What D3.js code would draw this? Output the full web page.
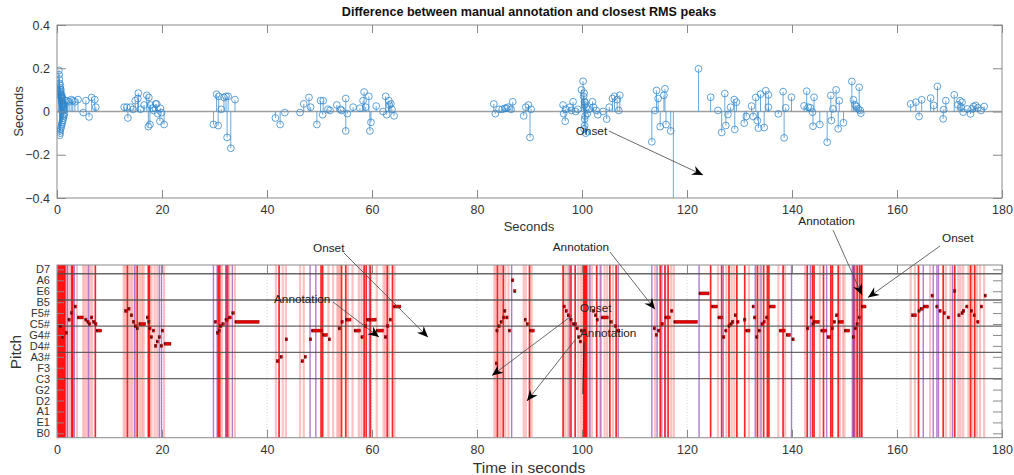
<!DOCTYPE html>
<html><head><meta charset="utf-8">
<script src="https://cdn.jsdelivr.net/npm/d3@7"></script>
<style>body{margin:0;background:#fff;} svg{font-family:"Liberation Sans",Arial,sans-serif;}</style>
</head><body><svg id="c" width="1014" height="475"></svg>
<script>
// ---------- Top panel: stem data (time in s, difference in s) ----------
const stemTimes = [0.35,0.4,0.45,0.5,0.55,0.6,0.6,0.65,0.7,0.7,0.75,0.8,0.8,0.85,0.9,0.9,0.95,1.0,1.0,1.05,1.1,1.1,1.15,1.2,1.2,1.25,1.3,1.3,1.35,1.4,1.45,1.5,0.5,0.55,0.65,0.75,0.85,0.95,1.05,1.15,
 1.9,2.3,2.7,3.0,3.4,4.0,5.0,5.5,6.1,6.6,7.2,7.4,
 12.8,13.3,13.5,14.0,14.5,14.9,15.4,15.5,15.9,16.6,17.1,17.4,17.5,17.7,17.8,18.2,18.4,18.8,19.0,19.2,19.7,19.9,19.6,20.4,
 29.8,30.4,30.7,30.8,31.3,31.8,32.2,32.4,32.6,33.1,33.9,
 41.6,42.5,43.4,46.3,47.0,48.0,48.3,49.5,50.2,50.6,50.7,51.6,52.0,53.3,54.0,54.2,55.0,55.0,55.3,56.4,57.7,58.3,58.5,58.8,59.4,59.6,59.8,60.8,62.1,62.6,62.8,63.2,63.3,63.6,63.8,64.2,
 83.2,83.5,84.2,84.8,85.3,85.6,85.9,86.5,86.8,88.9,89.3,89.8,90.1,90.3,
 96.4,96.5,96.8,96.9,97.7,98.0,98.3,98.8,99.2,99.9,100.2,100.3,100.5,100.5,100.5,100.5,100.7,100.8,101.0,101.3,102.0,102.2,102.7,103.0,104.0,104.7,105.2,105.8,106.2,106.7,107.0,107.2,100.4,100.6,100.6,100.4,
 113.3,113.9,114.2,114.5,114.9,115.6,115.8,116.0,116.9,117.4,
 122.2,124.5,125.9,126.6,127.2,127.4,127.8,128.3,129.0,129.1,129.4,130.9,131.3,132.3,132.6,133.1,133.4,133.6,134.0,134.7,135.0,135.5,135.5,
 137.4,138.3,138.5,138.8,139.9,142.3,142.8,143.1,143.5,143.9,144.2,144.0,145.3,146.7,147.4,147.5,147.8,148.4,148.8,149.0,149.8,
 151.4,151.7,152.0,152.3,152.6,152.8,153.0,153.1,
 162.6,163.6,164.2,164.7,166.4,167.0,167.7,168.8,168.9,169.3,170.9,171.6,172.0,172.2,172.4,172.6,173.4,174.0,174.3,174.6,175.0,175.4,176.0,176.6];
const stemDiffs = [0.19,0.17,0.15,0.13,0.11,0.10,-0.10,0.09,0.08,-0.08,0.07,0.065,-0.07,0.06,0.05,-0.06,0.045,0.04,-0.05,0.035,0.03,-0.04,0.025,0.02,-0.03,0.015,0.01,-0.02,0.005,-0.01,0.03,0.05,-0.11,-0.09,0.12,0.10,0.08,0.07,0.06,-0.015,
 0.05,0.045,0.055,0.05,0.045,0.055,-0.005,0.05,-0.025,0.065,0.055,0.02,
 0.02,0.02,-0.03,0.02,0.01,0.05,0.06,0.085,0.01,0.03,0.075,-0.07,0.065,-0.06,0.03,0.015,0.005,0.035,0.035,-0.01,0.015,-0.005,-0.045,-0.06,
 -0.06,0.08,-0.065,0.07,0.01,0.065,0.07,-0.12,0.07,-0.17,0.055,
 -0.03,-0.06,-0.005,-0.005,0.035,0.065,0.02,-0.06,0.05,-0.015,0.05,0.01,0.005,0.03,0.01,0.005,0.06,-0.09,-0.01,0.02,0.015,0.05,0.09,0.02,0.07,-0.09,-0.05,0.025,0.0,0.07,-0.015,0.05,0.03,0.035,0.01,-0.02,
 0.035,-0.01,0.01,0.01,0.015,0.015,0.02,0.01,0.045,-0.02,0.02,0.03,-0.12,0.01,
 0.03,-0.01,-0.045,0.01,0.02,0.005,0.045,0.0,0.01,0.10,0.14,0.07,0.045,0.03,-0.035,-0.065,-0.10,0.02,-0.01,0.01,0.045,0.02,0.005,-0.015,0.0,-0.035,0.02,0.06,0.07,0.055,0.005,0.075,0.085,-0.02,0.04,-0.08,
 -0.14,0.005,0.097,0.06,-0.07,0.075,0.105,-0.06,-0.09,-0.5,
 0.197,0.066,0.005,-0.097,0.083,-0.065,-0.014,0.02,0.055,-0.083,0.043,-0.054,-0.023,0.025,-0.023,0.065,-0.042,-0.077,0.08,-0.074,0.096,0.077,0.02,
 -0.011,0.092,-0.122,0.017,0.066,0.026,0.094,0.02,0.017,-0.003,0.066,-0.068,-0.06,-0.142,0.074,-0.042,0.012,0.10,-0.08,0.05,-0.052,
 0.139,0.054,0.031,0.023,0.012,0.112,0.005,-0.008,
 0.035,0.043,-0.023,0.054,0.062,0.028,0.116,-0.034,0.009,0.05,0.077,0.031,0.05,0.02,0.043,-0.003,0.012,-0.011,0.012,0.023,0.028,0.017,0.005,0.023];

const xTicks = [0,20,40,60,80,100,120,140,160,180];
const yTopTicks = [-0.4,-0.2,0,0.2,0.4];

// ---------- Bottom panel ----------
const pitchTickValues = [23,28,33,38,43,48,53,58,63,68,73,78,83,88,93,98];
const pitchTickLabels = ["B0","E1","A1","D2","G2","C3","F3","A3#","D4#","G4#","C5#","F5#","B5","E6","A6","D7"];
const pitchGrid = [48,60,72,84,96];

const onsetStrong = [0.1,0.3,0.5,0.7,0.9,1.1,1.3,1.5,2.8,3.0,7.3,13.4,15.3,17.4,17.6,30.7,31.0,32.2,32.5,42.3,50.3,50.6,54.2,55.0,58.5,58.9,59.7,62.9,63.9,83.9,85.0,90.0,96.4,97.9,98.7,100.3,100.5,100.7,100.9,102.8,105.3,106.5,114.9,115.8,116.4,124.5,126.6,128.0,129.5,131.0,133.4,134.6,135.3,135.6,138.3,142.9,143.9,144.2,146.0,147.4,147.7,148.8,151.8,152.4,152.9,153.3,164.1,168.8,171.0,174.0,174.8];
const onsetWeak = [1.7,1.9,2.4,3.8,5.0,5.3,5.7,6.3,6.7,12.7,13.0,13.7,14.1,14.4,15.0,15.8,16.2,16.5,18.0,18.6,19.1,20.4,31.4,32.8,33.9,41.7,43.0,43.6,46.3,47.0,51.7,52.6,53.4,53.6,53.9,55.4,56.3,57.5,58.0,60.9,62.2,62.5,63.2,64.3,83.3,83.6,84.3,84.6,85.4,86.0,88.9,89.3,90.4,96.8,97.3,99.3,99.8,101.4,101.9,103.4,104.3,104.8,105.9,113.9,117.0,117.5,125.9,127.5,128.5,129.0,131.8,133.8,137.4,138.7,142.5,145.3,149.1,149.7,150.0,151.6,152.6,153.1,162.6,163.4,166.3,169.3,170.2,171.7,172.1,172.6,173.6,174.3,175.2,175.8,176.6];
const annotLines = [2.0,3.3,6.0,14.8,19.5,19.9,29.8,30.5,32.4,33.4,48.2,49.3,59.5,86.6,97.6,101.5,103.6,106.9,113.3,114.3,115.2,115.9,122.3,126.9,133.0,134.1,139.9,143.5,146.6,151.5,152.0,165.0,166.9,167.6,167.9,170.6];

const noteOn = [0.5,0.9,1.6,2.1,2.6,3.3,3.9,5.3,5.7,6.0,6.4,6.8,7.2,7.5,
 12.9,13.5,14.0,14.4,14.7,15.1,15.6,17.0,17.3,17.5,17.8,18.2,18.6,18.9,19.3,19.7,19.9,20.4,
 30.0,30.4,30.7,31.0,31.4,32.0,32.7,33.3,33.9,
 41.8,42.5,43.5,46.5,47.1,48.1,48.5,50.6,51.7,53.6,54.1,55.0,56.6,57.9,58.6,59.0,59.5,60.8,62.4,62.8,63.3,64.1,
 83.5,83.6,84.0,84.4,84.9,85.1,85.5,86.0,86.6,87.0,89.0,89.4,90.0,
 96.4,96.8,97.2,97.7,98.2,98.5,98.9,99.2,99.5,99.7,102.0,102.4,102.7,103.7,105.3,106.2,106.6,
 113.6,114.0,114.4,115.1,115.8,116.9,117.5,122.3,124.7,125.9,126.8,127.2,127.8,128.2,128.5,129.0,129.5,130.8,131.2,132.4,132.7,133.1,133.6,134.1,134.5,135.0,135.7,137.6,138.9,140.0,
 142.8,143.5,143.8,144.1,145.5,146.7,147.5,147.9,148.3,148.8,150.0,151.5,151.9,152.2,152.6,153.2,
 162.8,164.0,164.4,165.0,166.5,167.4,168.0,168.8,169.6,170.8,171.6,172.2,172.5,173.1,174.0,174.5,175.2,175.9,176.6];
const noteOff = [0.7,1.1,1.8,2.3,2.8,3.6,5.0,5.5,5.9,6.2,6.6,7.0,7.4,8.5,
 13.4,13.7,14.2,14.6,14.9,15.5,16.9,17.1,17.5,17.7,18.0,18.4,18.8,19.1,19.6,19.8,20.1,21.7,
 30.1,30.6,30.9,31.3,31.9,32.6,33.2,33.8,38.5,
 42.3,42.7,43.7,47.0,47.3,48.3,50.6,51.5,51.9,53.8,54.3,56.0,57.8,58.1,58.8,59.2,60.8,62.2,62.6,63.0,63.5,65.5,
 83.6,83.8,84.2,84.6,85.1,85.3,85.7,86.2,86.7,87.2,89.2,89.6,90.9,
 96.6,97.0,97.4,97.9,98.4,99.0,99.1,99.4,99.7,99.9,102.2,102.6,102.9,105.0,105.8,106.4,107.2,
 113.8,114.2,114.6,115.3,116.8,117.1,122.0,124.2,125.8,126.8,127.0,127.4,128.0,128.4,128.7,129.2,129.7,131.0,132.0,132.6,132.9,133.3,133.8,134.3,134.7,135.2,136.8,138.7,139.7,140.2,
 143.0,143.7,144.0,145.2,146.6,147.4,147.7,148.1,148.5,149.8,151.0,151.7,152.1,152.4,152.8,154.1,
 163.7,164.2,165.0,166.0,166.7,167.6,168.2,169.1,169.9,171.0,171.8,172.4,172.7,173.3,174.2,174.7,175.4,176.1,176.8];
const notePitch = [72,67,69,75,78,81,76,75,74,73,76,74,73,70,
 79,80,77,74,72,71,73,76,74,71,67,70,63,65,67,63,70,64,
 74,69,70,72,73,75,76,78,74,
 56,58,66,56,58,66,70,68,66,71,74,75,70,67,72,75,75,70,67,72,75,81,
 55,70,72,74,76,79,76,70,93,88,75,73,70,
 81,79,77,75,73,73,71,67,65,70,79,77,75,76,74,72,70,
 71,68,70,73,76,79,74,87,81,76,67,70,72,73,74,77,74,75,70,81,76,67,70,73,74,76,81,70,68,66,
 71,76,73,74,70,67,71,74,77,74,70,67,71,73,76,81,
 77,79,80,81,86,81,79,78,76,88,77,78,79,81,79,77,74,81,86];

// ---------- Annotations ----------
const topAnnoText = "Onset";
const topAnnoTextPos = [98.8, -0.109];
const topAnnoTail = [105.1, -0.09];
const topAnnoHead = [123.05, -0.294];

const annoTexts = ["Onset","Annotation","Annotation","Onset","Annotation","Annotation","Onset"];
const annoTextT = [48.76,41.33,94.42,99.62,99.62,141.2,168.57];
const annoTextP = [105.95,82.39,106.4,78.5,66.84,118.3,110.3];
const annoTailT = [54.67,52.57,105.33,98.1,98.67,147.81,168.19];
const annoTailP = [105.5,83.08,105.95,76.9,65.69,116.0,108.7];
const annoHeadT = [70.67,61.33,113.9,82.86,89.52,153.33,154.48];
const annoHeadP = [66.96,67.07,79.74,49.45,37.79,86.28,85.1];
const extraLine = [[100.38,64.8],[100.19,41.0]];

// ---------- Drawing ----------
const svg = d3.select("#c");
const x = d3.scaleLinear().domain([0,180]).range([57,1002]);
const yT = d3.scaleLinear().domain([-0.4,0.4]).range([198,25]);
const yB = d3.scaleLinear().domain([21,100]).range([437.7,265]);
const boxColor = "#8a8a8a", textColor = "#333";

const defs = svg.append("defs");
defs.append("clipPath").attr("id","clipTop")
  .append("rect").attr("x",57).attr("y",25).attr("width",945).attr("height",173);
defs.append("clipPath").attr("id","clipBot")
  .append("rect").attr("x",57).attr("y",265).attr("width",945).attr("height",172.7);

function styleAxis(g){
  g.select(".domain").remove();
  g.selectAll(".tick line").attr("stroke",boxColor).attr("stroke-width",1);
  g.selectAll(".tick text").attr("fill",textColor).style("font-family","'Liberation Sans',Arial,sans-serif");
}

// ===== TOP PANEL =====
svg.append("text").attr("x",529).attr("y",15.5).attr("text-anchor","middle")
  .attr("font-weight","bold").attr("font-size",12.6).attr("fill","#111")
  .text("Difference between manual annotation and closest RMS peaks");

const gTop = svg.append("g");
gTop.append("line").attr("x1",x(0)).attr("x2",x(180)).attr("y1",yT(0)).attr("y2",yT(0))
  .attr("stroke","#a0a0a0").attr("stroke-width",1.6);

const stems = gTop.append("g").attr("clip-path","url(#clipTop)");
const stemData = stemTimes.map((t,i)=>({t, d: stemDiffs[i]}));
stems.selectAll("line.s").data(stemData).enter().append("line")
  .attr("x1",d=>x(d.t)).attr("x2",d=>x(d.t)).attr("y1",yT(0)).attr("y2",d=>yT(d.d))
  .attr("stroke","#3d8fd1").attr("stroke-width",0.9).attr("opacity",0.85);
stems.selectAll("circle").data(stemData).enter().append("circle")
  .attr("cx",d=>x(d.t)).attr("cy",d=>yT(d.d)).attr("r",3.4)
  .attr("fill","none").attr("stroke","#2f86cc").attr("stroke-width",0.9).attr("opacity",0.85);

gTop.append("g").attr("transform","translate(0,198)")
  .call(d3.axisBottom(x).tickValues(xTicks).tickSizeInner(-8).tickSizeOuter(0).tickPadding(7))
  .attr("font-size",12.5).call(styleAxis);
gTop.append("g").attr("transform","translate(0,25)")
  .call(d3.axisTop(x).tickValues(xTicks).tickSizeInner(-8).tickSizeOuter(0).tickFormat(""))
  .call(styleAxis);
gTop.append("g").attr("transform","translate(57,0)")
  .call(d3.axisLeft(yT).tickValues(yTopTicks).tickSizeInner(-9).tickSizeOuter(0).tickPadding(7).tickFormat(d=>d===0?"0":d3.format(".1f")(d)))
  .attr("font-size",12.5).call(styleAxis);
gTop.append("g").attr("transform","translate(1002,0)")
  .call(d3.axisRight(yT).tickValues(yTopTicks).tickSizeInner(-9).tickSizeOuter(0).tickFormat(""))
  .call(styleAxis);
gTop.append("rect").attr("x",57).attr("y",25).attr("width",945).attr("height",173)
  .attr("fill","none").attr("stroke",boxColor).attr("stroke-width",1);

gTop.append("text").attr("x",529).attr("y",231).attr("text-anchor","middle")
  .attr("font-size",13).attr("fill",textColor).text("Seconds");
gTop.append("text").attr("transform","translate(23,111.5) rotate(-90)").attr("text-anchor","middle")
  .attr("font-size",13).attr("fill",textColor).text("Seconds");

// ===== BOTTOM PANEL =====
const gBot = svg.append("g");
const vl = gBot.append("g").attr("clip-path","url(#clipBot)");
vl.selectAll("line.g").data(xTicks).enter().append("line")
  .attr("x1",d=>x(d)).attr("x2",d=>x(d)).attr("y1",265).attr("y2",437.7)
  .attr("stroke","#d0d0d0").attr("stroke-width",0.8).attr("stroke-dasharray","1,2");
vl.selectAll("line.w").data(onsetWeak).enter().append("line")
  .attr("x1",d=>x(d)).attr("x2",d=>x(d)).attr("y1",265).attr("y2",437.7)
  .attr("stroke","#ff9a9a").attr("stroke-width",2.2).attr("opacity",0.6);
vl.selectAll("line.r").data(onsetStrong).enter().append("line")
  .attr("x1",d=>x(d)).attr("x2",d=>x(d)).attr("y1",265).attr("y2",437.7)
  .attr("stroke","#ff0000").attr("stroke-width",1.7).attr("opacity",0.85);
vl.selectAll("line.a").data(annotLines).enter().append("line")
  .attr("x1",d=>x(d)).attr("x2",d=>x(d)).attr("y1",265).attr("y2",437.7)
  .attr("stroke","#9b4fc0").attr("stroke-width",1.4).attr("opacity",0.75);

gBot.selectAll("line.pg").data(pitchGrid).enter().append("line")
  .attr("x1",57).attr("x2",1002).attr("y1",d=>yB(d)).attr("y2",d=>yB(d))
  .attr("stroke","#4d4d4d").attr("stroke-width",1.3).attr("opacity",0.85);

const notes = noteOn.map((s,i)=>({s, e: noteOff[i], p: notePitch[i]}));
const ng = gBot.append("g").attr("clip-path","url(#clipBot)");
ng.selectAll("rect").data(notes).enter().append("rect")
  .attr("x",d=>x(d.s)).attr("y",d=>yB(d.p)-1.5)
  .attr("width",d=>Math.max(2.2, x(d.e)-x(d.s))).attr("height",3)
  .attr("fill","#e60000").attr("stroke","#7a0000").attr("stroke-width",0.45);
ng.selectAll("circle").data(notes).enter().append("circle")
  .attr("cx",d=>x(d.s)+0.5).attr("cy",d=>yB(d.p)).attr("r",0.8).attr("fill","#111");

gBot.append("g").attr("transform","translate(0,437.7)")
  .call(d3.axisBottom(x).tickValues(xTicks).tickSizeInner(-8).tickSizeOuter(0).tickPadding(7))
  .attr("font-size",12.5).call(styleAxis);
gBot.append("g").attr("transform","translate(0,265)")
  .call(d3.axisTop(x).tickValues(xTicks).tickSizeInner(-8).tickSizeOuter(0).tickFormat(""))
  .call(styleAxis);
gBot.append("g").attr("transform","translate(57,0)")
  .call(d3.axisLeft(yB).tickValues(pitchTickValues).tickSizeInner(-7).tickSizeOuter(0).tickPadding(7)
     .tickFormat((d,i)=>pitchTickLabels[i]))
  .attr("font-size",11).call(styleAxis);
gBot.append("g").attr("transform","translate(1002,0)")
  .call(d3.axisRight(yB).tickValues(pitchTickValues).tickSizeInner(-9).tickSizeOuter(0).tickFormat(""))
  .call(styleAxis);
gBot.append("rect").attr("x",57).attr("y",265).attr("width",945).attr("height",172.7)
  .attr("fill","none").attr("stroke",boxColor).attr("stroke-width",1);

gBot.append("text").attr("x",529).attr("y",473).attr("text-anchor","middle")
  .attr("font-size",15.5).attr("fill",textColor).text("Time in seconds");
gBot.append("text").attr("transform","translate(21,352) rotate(-90)").attr("text-anchor","middle")
  .attr("font-size",15.5).attr("fill",textColor).text("Pitch");

// ===== ANNOTATIONS =====
const ga = svg.append("g");
function arrow(x1,y1,x2,y2){
  ga.append("line").attr("x1",x1).attr("y1",y1).attr("x2",x2).attr("y2",y2)
    .attr("stroke","#444").attr("stroke-width",0.8);
  const a = Math.atan2(y2-y1, x2-x1), L = 11, Wd = 4.8, N = 7.5;
  const ux = Math.cos(a), uy = Math.sin(a), px = -uy, py = ux;
  const pts = [[x2,y2],[x2-L*ux+Wd*px, y2-L*uy+Wd*py],[x2-N*ux, y2-N*uy],[x2-L*ux-Wd*px, y2-L*uy-Wd*py]];
  ga.append("path").attr("d","M"+pts.map(p=>p.join(",")).join("L")+"Z").attr("fill","#000");
}
ga.append("text").attr("x",x(topAnnoTextPos[0])).attr("y",yT(topAnnoTextPos[1]))
  .attr("font-size",11.8).attr("fill","#222").text(topAnnoText);
arrow(x(topAnnoTail[0]),yT(topAnnoTail[1]),x(topAnnoHead[0]),yT(topAnnoHead[1]));
annoTexts.forEach((t,i)=>{
  arrow(x(annoTailT[i]),yB(annoTailP[i]),x(annoHeadT[i]),yB(annoHeadP[i]));
  ga.append("text").attr("x",x(annoTextT[i])).attr("y",yB(annoTextP[i]))
    .attr("font-size",11.8).attr("fill","#222").text(t);
});
ga.append("line").attr("x1",x(extraLine[0][0])).attr("y1",yB(extraLine[0][1]))
  .attr("x2",x(extraLine[1][0])).attr("y2",yB(extraLine[1][1]))
  .attr("stroke","#333").attr("stroke-width",1.2);
</script>
</body></html>
